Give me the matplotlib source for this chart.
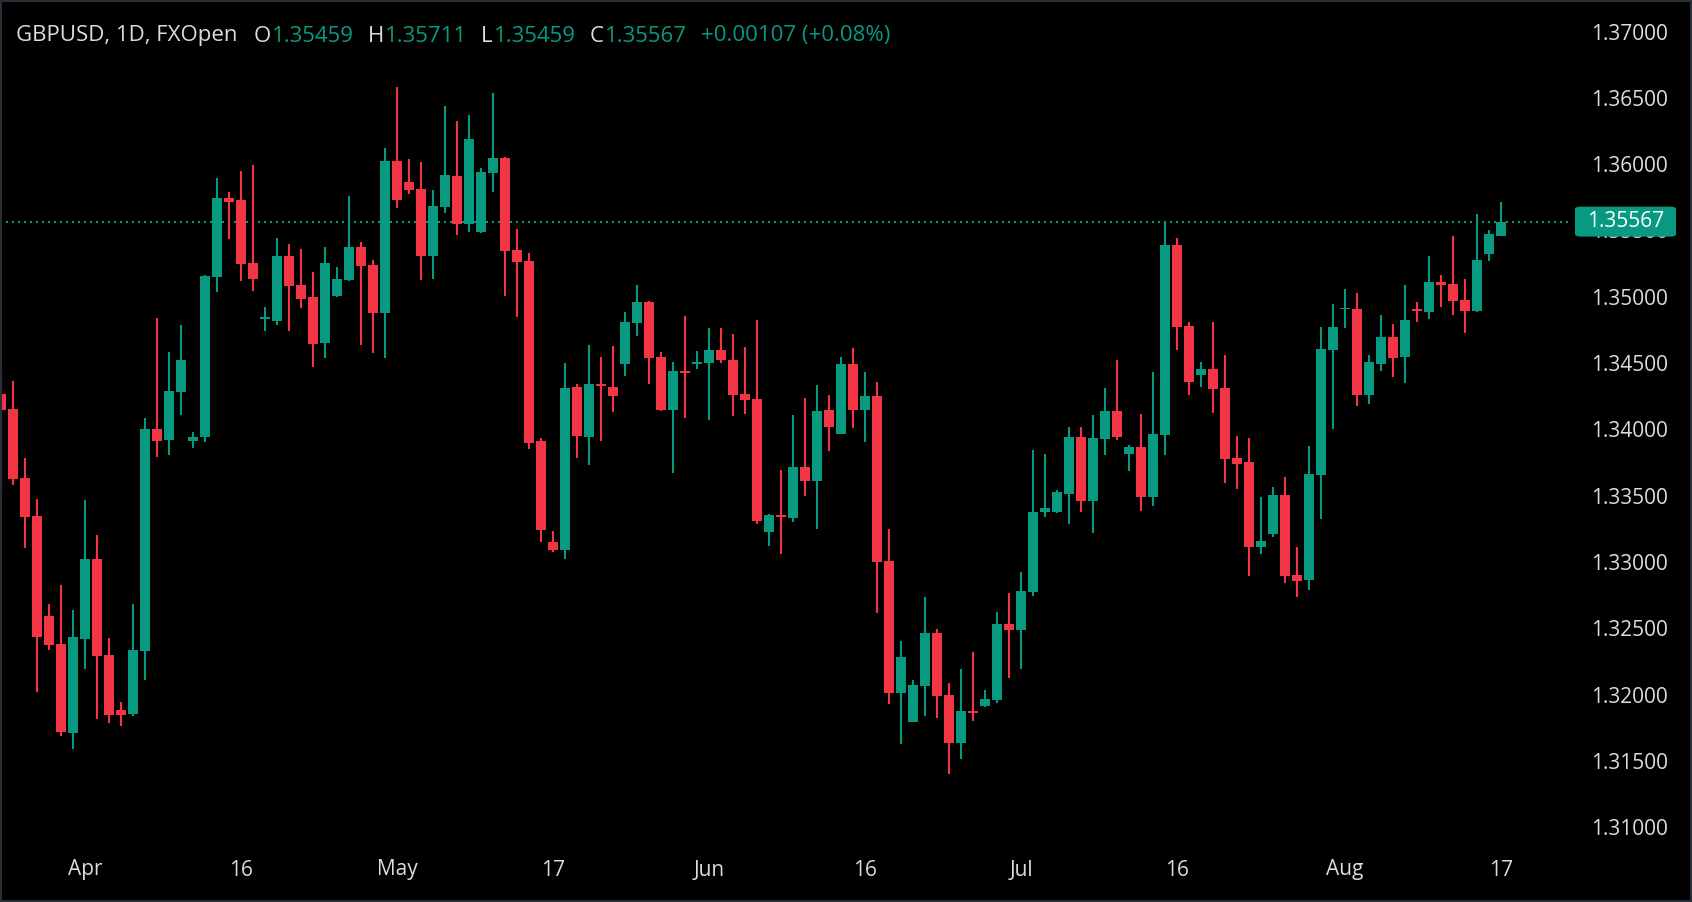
import matplotlib
matplotlib.use("Agg")
import matplotlib.pyplot as plt
import numpy as np
from matplotlib.patches import FancyBboxPatch, Rectangle

# ---------------- data (GBPUSD daily, FXOpen) ----------------
opens = [1.34267, 1.34154, 1.33634, 1.33348, 1.32594, 1.32383, 1.31711, 1.32420, 1.33023, 1.32300,
         1.31885, 1.31855, 1.32330, 1.34004, 1.33920, 1.34283, 1.33913, 1.33943, 1.35150, 1.35745,
         1.35730, 1.35255, 1.34833, 1.34818, 1.35308, 1.35090, 1.34999, 1.34652, 1.35006, 1.35127,
         1.35376, 1.35240, 1.34878, 1.36024, 1.35866, 1.35813, 1.35308, 1.35677, 1.35911, 1.35549,
         1.35489, 1.35934, 1.36047, 1.35353, 1.35270, 1.33912, 1.33150, 1.33093, 1.34319, 1.33945,
         1.34340, 1.34319, 1.34495, 1.34805, 1.34961, 1.34546, 1.34146, 1.34440, 1.34493, 1.34503,
         1.34599, 1.34523, 1.34267, 1.34229, 1.33226, 1.33354, 1.33331, 1.33716, 1.33610, 1.34146,
         1.33965, 1.34493, 1.34146, 1.34252, 1.33007, 1.32011, 1.31795, 1.32067, 1.32464, 1.31996,
         1.31637, 1.31876, 1.31916, 1.31961, 1.32532, 1.32489, 1.32776, 1.33380, 1.33380, 1.33515,
         1.33942, 1.33462, 1.33927, 1.34139, 1.33814, 1.33867, 1.33490, 1.33957, 1.35391, 1.34780,
         1.34410, 1.34455, 1.34312, 1.33784, 1.33754, 1.33113, 1.33211, 1.33505, 1.32901, 1.32866,
         1.33658, 1.34601, 1.34905, 1.34908, 1.34259, 1.34493, 1.34697, 1.34546, 1.34908, 1.34885,
         1.35111, 1.35096, 1.34976, 1.34893, 1.35323, 1.35459]
highs = [1.34456, 1.34366, 1.33785, 1.33476, 1.32685, 1.32827, 1.32639, 1.33468, 1.33204, 1.32428,
         1.31945, 1.32685, 1.34087, 1.34841, 1.34584, 1.34787, 1.33980, 1.35165, 1.35896, 1.35790,
         1.35949, 1.35994, 1.34923, 1.35444, 1.35398, 1.35360, 1.35187, 1.35375, 1.35225, 1.35760,
         1.35414, 1.35278, 1.36122, 1.36582, 1.36039, 1.36016, 1.35806, 1.36439, 1.36326, 1.36371,
         1.35971, 1.36537, 1.36054, 1.35512, 1.35331, 1.33935, 1.33233, 1.34500, 1.34342, 1.34636,
         1.34546, 1.34629, 1.34885, 1.35089, 1.34968, 1.34583, 1.34508, 1.34855, 1.34591, 1.34764,
         1.34764, 1.34719, 1.34621, 1.34825, 1.33362, 1.33693, 1.34108, 1.34236, 1.34334, 1.34259,
         1.34546, 1.34614, 1.34432, 1.34357, 1.33248, 1.32404, 1.32109, 1.32736, 1.32494, 1.32087,
         1.32193, 1.32321, 1.32034, 1.32622, 1.32766, 1.32924, 1.33844, 1.33814, 1.33543, 1.34018,
         1.34018, 1.34108, 1.34312, 1.34523, 1.33882, 1.34116, 1.34433, 1.35574, 1.35443, 1.34810,
         1.34508, 1.34810, 1.34561, 1.33950, 1.33935, 1.33490, 1.33565, 1.33641, 1.33113, 1.33874,
         1.34772, 1.34945, 1.35059, 1.35028, 1.34561, 1.34863, 1.34795, 1.35089, 1.34961, 1.35307,
         1.35164, 1.35458, 1.35134, 1.35624, 1.35503, 1.35711]
lows = [1.33521, 1.33581, 1.33106, 1.32021, 1.32337, 1.31689, 1.31591, 1.32194, 1.31817, 1.31787,
        1.31764, 1.31840, 1.32111, 1.33792, 1.33807, 1.34109, 1.33860, 1.33905, 1.35037, 1.35436,
        1.35120, 1.35044, 1.34742, 1.34788, 1.34742, 1.34915, 1.34471, 1.34539, 1.34999, 1.35120,
        1.34637, 1.34577, 1.34539, 1.35670, 1.35775, 1.35127, 1.35135, 1.35632, 1.35466, 1.35489,
        1.35481, 1.35790, 1.35006, 1.34848, 1.33853, 1.33153, 1.33078, 1.33025, 1.33787, 1.33734,
        1.33915, 1.34133, 1.34405, 1.34707, 1.34345, 1.34141, 1.33673, 1.34088, 1.34455, 1.34071,
        1.34503, 1.34101, 1.34118, 1.33286, 1.33120, 1.33060, 1.33301, 1.33497, 1.33248, 1.33837,
        1.33965, 1.34010, 1.33905, 1.32615, 1.31929, 1.31627, 1.31790, 1.31840, 1.31825, 1.31403,
        1.31516, 1.31803, 1.31908, 1.31939, 1.32127, 1.32195, 1.32746, 1.33341, 1.33372, 1.33289,
        1.33380, 1.33221, 1.33807, 1.33920, 1.33686, 1.33384, 1.33422, 1.33807, 1.34599, 1.34259,
        1.34320, 1.34123, 1.33595, 1.33550, 1.32894, 1.33060, 1.33188, 1.32841, 1.32738, 1.32791,
        1.33326, 1.34005, 1.34767, 1.34176, 1.34191, 1.34440, 1.34395, 1.34350, 1.34810, 1.34832,
        1.34923, 1.34863, 1.34727, 1.34885, 1.35270, 1.35459]
closes = [1.34147, 1.33627, 1.33340, 1.32435, 1.32375, 1.31719, 1.32435, 1.33023, 1.32292, 1.31847,
          1.31847, 1.32337, 1.34004, 1.33913, 1.34290, 1.34524, 1.33943, 1.35157, 1.35745, 1.35715,
          1.35248, 1.35135, 1.34838, 1.35308, 1.35082, 1.34984, 1.34645, 1.35255, 1.35135, 1.35376,
          1.35233, 1.34878, 1.36024, 1.35730, 1.35806, 1.35308, 1.35685, 1.35919, 1.35549, 1.36190,
          1.35941, 1.36047, 1.35346, 1.35263, 1.33898, 1.33243, 1.33093, 1.34312, 1.33952, 1.34342,
          1.34330, 1.34254, 1.34810, 1.34961, 1.34541, 1.34146, 1.34440, 1.34428, 1.34508, 1.34599,
          1.34523, 1.34259, 1.34221, 1.33309, 1.33354, 1.33341, 1.33716, 1.33610, 1.34138, 1.34018,
          1.34493, 1.34146, 1.34252, 1.33000, 1.32011, 1.32283, 1.32072, 1.32464, 1.31991, 1.31637,
          1.31876, 1.31863, 1.31966, 1.32532, 1.32489, 1.32781, 1.33377, 1.33407, 1.33527, 1.33942,
          1.33462, 1.33935, 1.34139, 1.33942, 1.33867, 1.33490, 1.33965, 1.35391, 1.34772, 1.34357,
          1.34455, 1.34304, 1.33776, 1.33739, 1.33113, 1.33158, 1.33505, 1.32894, 1.32859, 1.33663,
          1.34606, 1.34772, 1.34915, 1.34259, 1.34508, 1.34697, 1.34538, 1.34825, 1.34895, 1.35111,
          1.35089, 1.34968, 1.34893, 1.35277, 1.35473, 1.35567]

xtick_bars = [7, 20, 33, 46, 59, 72, 85, 98, 112, 125]
xtick_labels = ["Apr", "16", "May", "17", "Jun", "16", "Jul", "16", "Aug", "17"]
ytick_values = [1.310, 1.315, 1.320, 1.325, 1.330, 1.335, 1.340, 1.345,
                1.350, 1.355, 1.360, 1.365, 1.370]
last_price = 1.35567
symbol_text = "GBPUSD, 1D, FXOpen"
ohlc_letters = ["O", "H", "L", "C"]
ohlc_values = ["1.35459", "1.35711", "1.35459", "1.35567"]
change_text = "+0.00107 (+0.08%)"

# ---------------- style ----------------
UP = "#089981"
DOWN = "#F23645"
BG = "#000000"
TXT = "#dcdcdc"
FONT = ["Open Sans", "DejaVu Sans"]
plt.rcParams["font.family"] = FONT
TICK_FS = 15
HEAD_FS = 16

W, H = 1692, 902
fig = plt.figure(figsize=(W / 100, H / 100), dpi=100, facecolor=BG)
ax = fig.add_axes([0, 55 / H, 1570 / W, 847 / H])
ax.set_facecolor(BG)

o = np.array(opens); h = np.array(highs); l = np.array(lows); c = np.array(closes)
x = np.arange(len(o))
up = c >= o
colors = np.where(up, UP, DOWN)

ax.vlines(x, l, h, colors=colors, linewidth=1.5, zorder=2)
body_bottom = np.minimum(o, c)
body_h = np.maximum(np.abs(c - o), 0.00012)
ax.bar(x, body_h, bottom=body_bottom, width=0.8, color=colors, linewidth=0, zorder=3)

ax.set_xlim(-0.083, 130.75)
ax.set_ylim(1.30850, 1.372383)

# last price dotted line
ax.axhline(last_price, color=UP, linewidth=1.44, linestyle=(0, (1, 2)), zorder=1)

for s in ax.spines.values():
    s.set_visible(False)

ax.yaxis.tick_right()
ax.set_yticks(ytick_values)
ax.set_yticklabels([f"{v:.5f}" for v in ytick_values])
ax.tick_params(axis="y", length=0, pad=15, labelsize=TICK_FS, labelcolor=TXT)
ax.set_xticks(xtick_bars)
ax.set_xticklabels(xtick_labels)
ax.tick_params(axis="x", length=0, pad=9, labelsize=TICK_FS, labelcolor=TXT)
for t in ax.get_xticklabels() + ax.get_yticklabels():
    t.set_fontfamily(FONT)

# price label box on axis
fig.canvas.draw()
ypix = ax.transData.transform((0, last_price))[1]
bw, bh = 101, 30
box = FancyBboxPatch((1575 / W, (ypix - bh / 2) / H), bw / W, bh / H,
                     boxstyle="round,pad=0,rounding_size=0.003",
                     transform=fig.transFigure, facecolor=UP, edgecolor="none",
                     zorder=10)
fig.patches.append(box)
fig.text((1575 + bw / 2) / W, ypix / H, f"{last_price:.5f}", color="white",
         fontsize=TICK_FS, ha="center", va="center", zorder=11, family=FONT)

# header line, chained pieces
renderer = fig.canvas.get_renderer()
ybase = (H - 36) / H
xpos = 16


def put(txt, color, gap_after):
    global xpos
    t = fig.text(xpos / W, ybase, txt, color=color, fontsize=HEAD_FS, ha="left",
                 va="center", family=FONT)
    bb = t.get_window_extent(renderer=renderer)
    xpos = bb.x1 + gap_after
    return t


put(symbol_text, TXT, 16)
for letter, val in zip(ohlc_letters, ohlc_values):
    put(letter, TXT, 1)
    put(val, UP, 14)
put(change_text, UP, 0)

# outer frame
fig.patches.append(Rectangle((0, 0), 1, 1, transform=fig.transFigure, fill=False,
                             edgecolor="#2a2e39", linewidth=3, zorder=20))

fig.savefig("out.png", dpi=100, facecolor=BG)
